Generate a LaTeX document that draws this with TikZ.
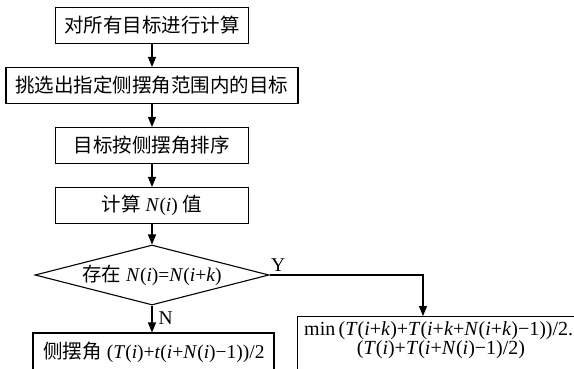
\documentclass[tikz,border=0pt]{standalone}
\usepackage{fontspec}
\setmainfont{Liberation Serif}
\newfontfamily\cjk{Noto Sans CJK SC}
\usetikzlibrary{shapes.geometric,arrows.meta,calc}
\newcommand\myit[1]{\textit{#1}}
\begin{document}
\begin{tikzpicture}[x=1pt,y=-1pt,
  every node/.style={font=\fontsize{19.5}{23}\selectfont},
  box/.style={draw,line width=1.1pt,rectangle,inner sep=0pt,minimum height=36pt},
  dia/.style={draw,line width=1.1pt,diamond,aspect=3.9,inner sep=0pt,minimum width=234pt,minimum height=60pt},
  arr/.style={line width=1.1pt,-{Triangle[length=10pt,width=8pt]}},
  lbl/.style={inner sep=0pt}]
\useasboundingbox (0,0) rectangle (574,368);
\clip (0,0) rectangle (574,368);
\fill[white] (0,0) rectangle (574,368);
\node[box,minimum width=193pt] (b1) at (152,25.5) {\cjk 对所有目标进行计算};
\node[box,minimum width=292pt] (b2) at (152,85.5) {\cjk 挑选出指定侧摆角范围内的目标};
\node[box,minimum width=193pt] (b3) at (152,145.5) {\cjk 目标按侧摆角排序};
\node[box,minimum width=193pt] (b4) at (152,205.5) {{\cjk 计算} \myit{N}(\myit{i}) {\cjk 值}};
\node[dia] (d) at (152,275) {{\cjk 存在} \myit{N}(\myit{i})=\myit{N}(\myit{i}+\myit{k})};
\node[box,minimum width=241pt,minimum height=40pt] (lb) at (153.5,353) {};
\node[lbl] (lt) at (154,352) {{\cjk 侧摆角} (\myit{T}(\myit{i})+\myit{t}(\myit{i}+\myit{N}(\myit{i})\textminus 1))/2};
\node[box,minimum width=300pt,minimum height=64pt,anchor=north west] (rb) at (297,316) {};
\node[lbl,anchor=west,font=\fontsize{20}{23}\selectfont] (rt1) at (304,331) {min\,(\myit{T}(\myit{i}+\myit{k})+\myit{T}(\myit{i}+\myit{k}+\myit{N}(\myit{i}+\myit{k})\textminus 1))/2.};
\node[lbl,font=\fontsize{20}{23}\selectfont] (rt2) at (441,350) {(\myit{T}(\myit{i})+\myit{T}(\myit{i}+\myit{N}(\myit{i})\textminus 1)/2)};
\coordinate (rin) at (423,316);
\draw[arr] (b1) -- (b2);
\draw[arr] (b2) -- (b3);
\draw[arr] (b3) -- (b4);
\draw[arr] (b4) -- (d);
\draw[arr] (d.south) -- (d.south |- lb.north) node[lbl,pos=0.5,anchor=west,xshift=6pt,yshift=1pt] (nl) {N};
\draw[arr] (d.east) -| (rin) node[lbl,pos=0,anchor=south west,xshift=1pt,yshift=3pt] (yl) {Y};
\end{tikzpicture}
\end{document}
